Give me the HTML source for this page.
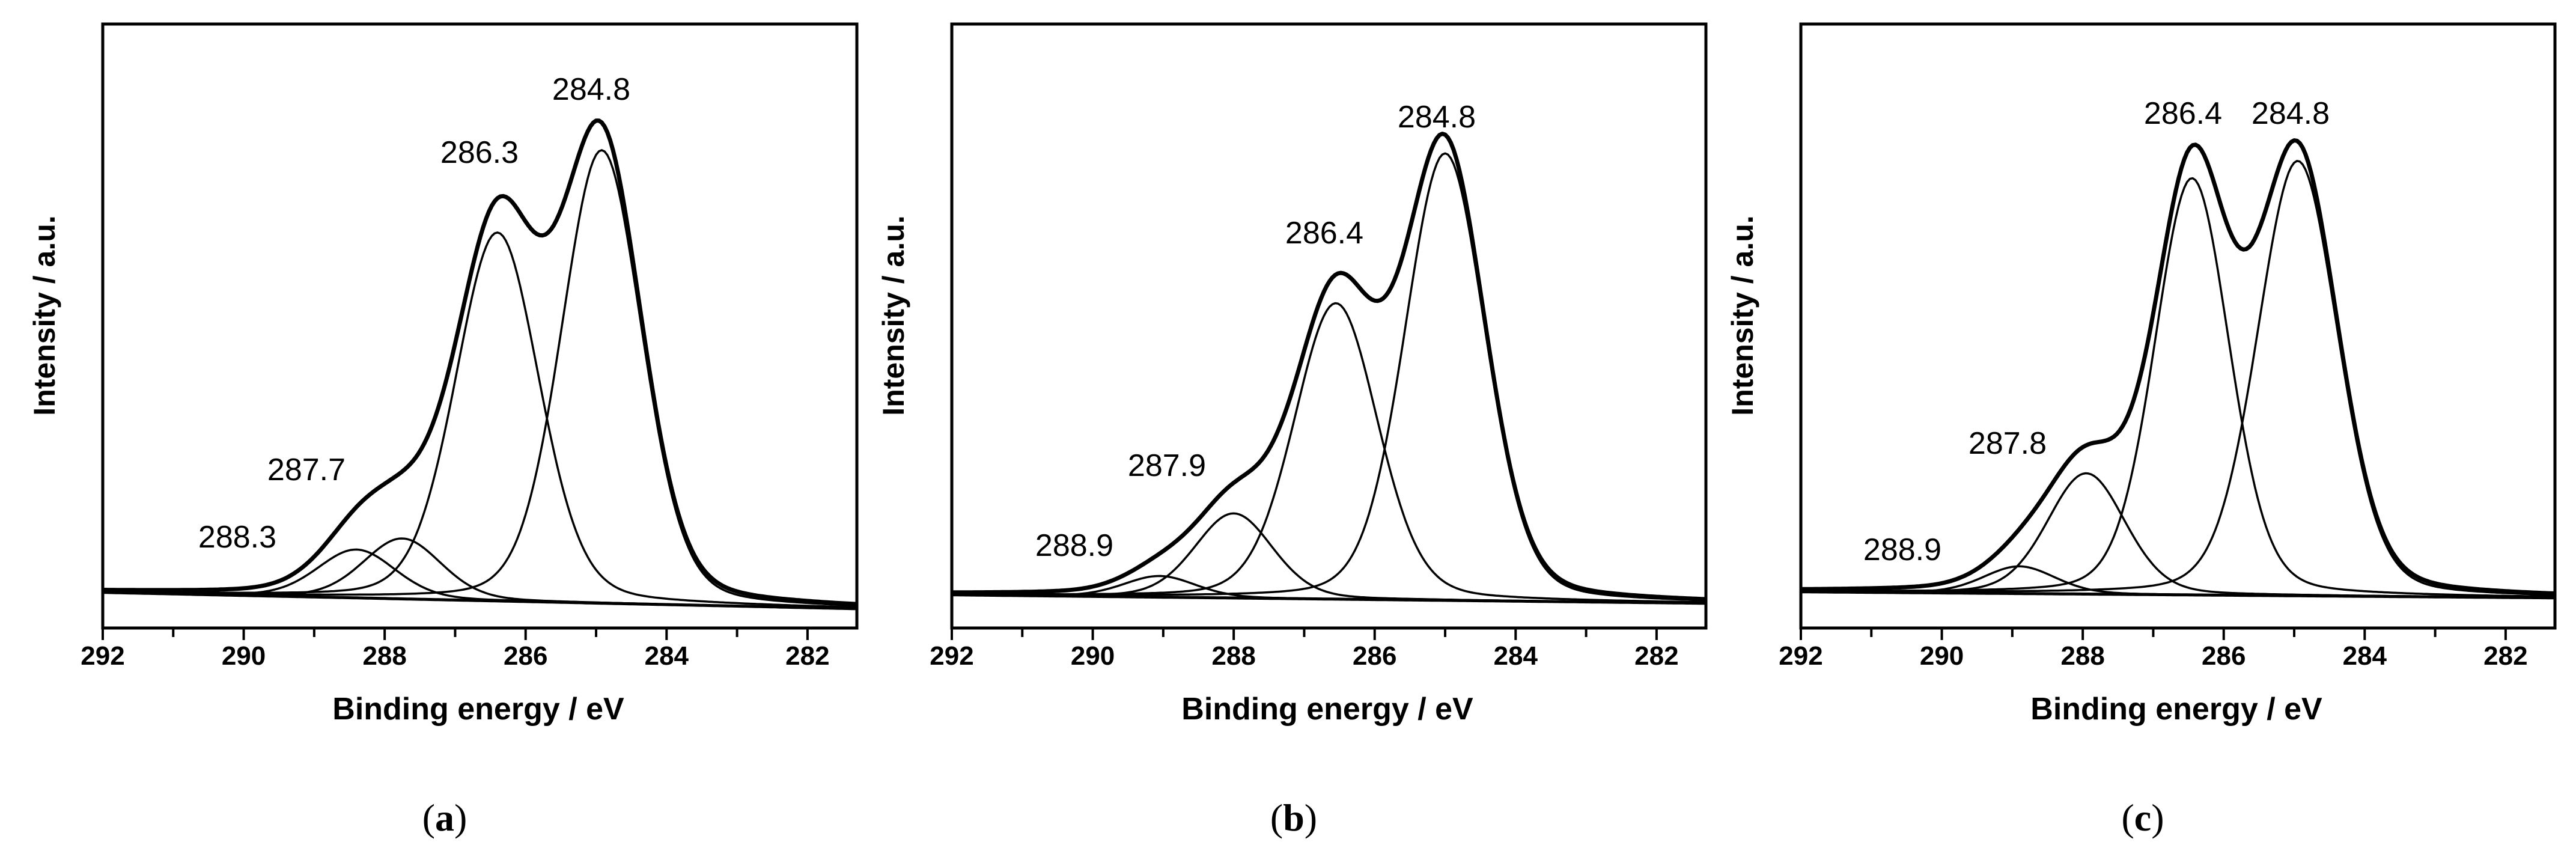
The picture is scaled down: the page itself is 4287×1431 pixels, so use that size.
<!DOCTYPE html>
<html><head><meta charset="utf-8"><style>
html,body{margin:0;padding:0;background:#fff;}
svg{display:block;}
</style></head><body>
<svg id="fig" width="4287" height="1431" viewBox="0 0 4287 1431" xmlns="http://www.w3.org/2000/svg"></svg>
<script>
// Panel data: component peak centers (eV), heights (a.u. above background), FWHM (eV)
const panelIds = ['a','b','c'];
const centersA = [284.92, 286.4, 287.75, 288.4];
const heightsA = [75, 61, 10, 8];
const fwhmA = [1.35, 1.4, 1.3, 1.3];
const centersB = [285.0, 286.55, 288.0, 289.05];
const heightsB = [74, 49, 14, 3.5];
const fwhmB = [1.35, 1.4, 1.3, 1.2];
const centersC = [284.95, 286.45, 287.95, 288.9];
const heightsC = [72, 69, 20, 4.5];
const fwhmC = [1.35, 1.25, 1.3, 1.2];
// Lorentzian fraction of the Gaussian-Lorentzian line shape
const lorentzFrac = [0.2, 0.2, 0.2];
// background levels at 292 eV and at the right edge
const bgLeft = [5.9, 5.5, 6.0];
const bgRight = [3.2, 4.1, 5.0];
const peakLabelsA = ['284.8','286.3','287.7','288.3'];
const peakLabelsB = ['284.8','286.4','287.9','288.9'];
const peakLabelsC = ['284.8','286.4','287.8','288.9'];
const xTicks = [292,291,290,289,288,287,286,285,284,283,282];
const xTickLabels = ['292','290','288','286','284','282'];

const NS='http://www.w3.org/2000/svg';
const svg=document.getElementById('fig');
function mk(tag,attrs,parent){const e=document.createElementNS(NS,tag);for(const k in attrs)e.setAttribute(k,attrs[k]);(parent||svg).appendChild(e);return e;}

const X0=171,X1=1426,Y0=40,Y1=1045,EMAX=292,EMIN=281.3;
const offsets=[0,1413,2826];
const labelPos=[
 [[984,147],[798,252],[510,780],[395,892]],
 [[978,193],[791,386],[529,773],[375,906]],
 [[986,187],[807,187],[515,736],[340,913]]
];
const allC=[centersA,centersB,centersC],allH=[heightsA,heightsB,heightsC],allW=[fwhmA,fwhmB,fwhmC],allL=[peakLabelsA,peakLabelsB,peakLabelsC];

panelIds.forEach((pid,p)=>{
  const ox=offsets[p];
  const xs=E=>ox+X0+(EMAX-E)*(X1-X0)/(EMAX-EMIN);
  const ys=v=>Y1-v*(Y1-Y0)/100;
  const g=mk('g',{});
  
  
  const bg=E=>bgLeft[p]+(EMAX-E)/(EMAX-EMIN)*(bgRight[p]-bgLeft[p]);
  const comp=(i,E)=>{
    const w=allW[p][i], s=w/2.3548, dx=E-allC[p][i], m=lorentzFrac[p];
    const G=Math.exp(-(dx*dx)/(2*s*s));
    const L=1/(1+4*dx*dx/(w*w));
    return allH[p][i]*((1-m)*G+m*L);
  };
  const Es=[];for(let E=EMAX;E>=EMIN-0.001;E-=0.04)Es.push(E);
  let d=Es.map((E,k)=>(k?'L':'M')+xs(E).toFixed(1)+' '+ys(bg(E)).toFixed(1)).join('');
  const bl=mk('path',{d:d,fill:'none',stroke:'#000','stroke-width':5},g);
  
  
  allC[p].forEach((c,i)=>{
    const dd=Es.map((E,k)=>(k?'L':'M')+xs(E).toFixed(1)+' '+ys(bg(E)+comp(i,E)).toFixed(1)).join('');
    const pe=mk('path',{d:dd,fill:'none',stroke:'#000','stroke-width':3.5,'stroke-linejoin':'round'},g);
    
    
  });
  const de=Es.map((E,k)=>{let v=bg(E);allC[p].forEach((c,i)=>v+=comp(i,E));return (k?'L':'M')+xs(E).toFixed(1)+' '+ys(v).toFixed(1);}).join('');
  const env=mk('path',{d:de,fill:'none',stroke:'#000','stroke-width':7,'stroke-linejoin':'round'},g);
  
  
  const fr=mk('rect',{x:ox+X0,y:Y0,width:X1-X0,height:Y1-Y0,fill:'none',stroke:'#000','stroke-width':5},g);
  
  
  xTicks.forEach(t=>{
    const major=(t%2===0);
    const tk=mk('line',{x1:xs(t),x2:xs(t),y1:Y1,y2:Y1+(major?20:15),stroke:'#000','stroke-width':4},g);
    
    
  });
  xTickLabels.forEach(t=>{
    const tl=mk('text',{x:xs(+t),y:1106,'text-anchor':'middle','font-family':'Liberation Sans, sans-serif','font-weight':'bold','font-size':44},g);
    tl.textContent=t;
    
    
  });
  const xt=mk('text',{x:ox+796,y:1197,'text-anchor':'middle','font-family':'Liberation Sans, sans-serif','font-weight':'bold','font-size':52},g);
  xt.textContent='Binding energy / eV';
  
  
  const yt=mk('text',{x:0,y:0,transform:'translate('+(ox+91)+',525) rotate(-90)','text-anchor':'middle','font-family':'Liberation Sans, sans-serif','font-weight':'bold','font-size':50},g);
  yt.textContent='Intensity / a.u.';
  
  
  allL[p].forEach((l,i)=>{
    const pl=mk('text',{x:ox+labelPos[p][i][0],y:labelPos[p][i][1]+19,'text-anchor':'middle','font-family':'Liberation Sans, sans-serif','font-size':52},g);
    pl.textContent=l;
    
    
  });
  const sl=mk('text',{x:ox+740,y:1382,'text-anchor':'middle','font-family':'Liberation Serif, serif','font-size':64},g);
  sl.innerHTML='(<tspan font-weight="bold">'+pid+'</tspan>)';
  
  
});
</script>
</body></html>
